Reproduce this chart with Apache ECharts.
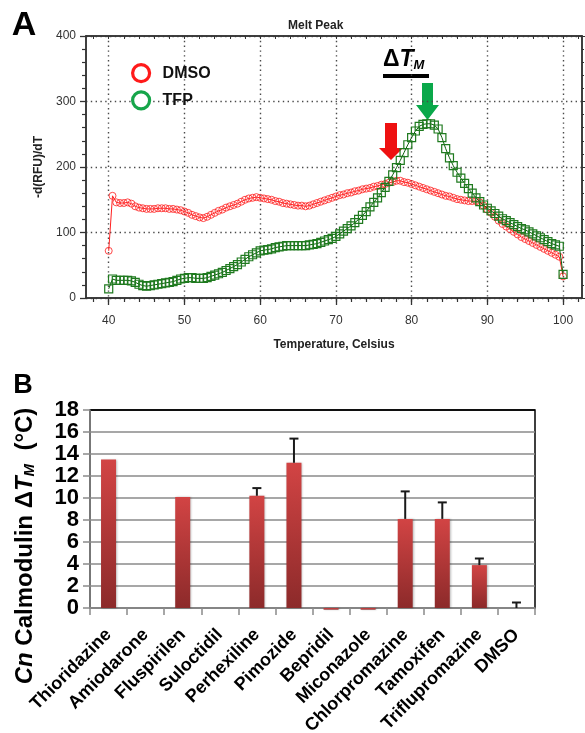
<!DOCTYPE html>
<html>
<head>
<meta charset="utf-8">
<script src="https://cdn.jsdelivr.net/npm/echarts@6/dist/echarts.min.js"></script>
<style>html,body{margin:0;padding:0;background:#fff}#c{width:585px;height:733px}</style>
</head>
<body>
<div id="c"></div>
<script>
// ---------- Panel A: Melt Peak ----------
const meltTemps = [
  40,40.5,41,41.5,42,42.5,43,43.5,44,44.5,
  45,45.5,46,46.5,47,47.5,48,48.5,49,49.5,
  50,50.5,51,51.5,52,52.5,53,53.5,54,54.5,
  55,55.5,56,56.5,57,57.5,58,58.5,59,59.5,
  60,60.5,61,61.5,62,62.5,63,63.5,64,64.5,
  65,65.5,66,66.5,67,67.5,68,68.5,69,69.5,
  70,70.5,71,71.5,72,72.5,73,73.5,74,74.5,
  75,75.5,76,76.5,77,77.5,78,78.5,79,79.5,
  80,80.5,81,81.5,82,82.5,83,83.5,84,84.5,
  85,85.5,86,86.5,87,87.5,88,88.5,89,89.5,
  90,90.5,91,91.5,92,92.5,93,93.5,94,94.5,
  95,95.5,96,96.5,97,97.5,98,98.5,99,99.5,100
];
const dmsoValues = [
  72,156,146,145,145,146,144,140,138,137,
  136,136,136,137,137,137,136,136,135,134,
  132,130,127,125,123,122,124,127,130,133,
  135,138,140,142,144,147,150,152,153,154,
  153,152,151,150,148,147,145,144,143,142,
  141,141,140,141,143,145,147,149,151,153,
  155,157,158,160,161,163,164,166,167,168,
  170,171,173,174,176,177,179,179,177,176,
  174,172,170,168,166,164,162,160,158,156,
  155,153,151,150,149,148,148,148,146,141,
  135,130,124,118,113,109,105,101,97,93,
  90,87,84,81,78,75,72,69,66,63,33
];
const tfpValues = [
  14,29,27,27,27,27,26,24,21,19,
  18,19,20,21,22,23,24,25,27,29,
  30,31,31,30,30,30,31,33,35,37,
  39,42,45,48,51,55,59,63,66,69,
  72,73,74,75,77,78,79,80,80,80,
  80,80,80,81,82,83,85,87,89,91,
  94,98,102,106,110,115,120,126,132,139,
  146,153,161,169,178,188,199,210,222,234,
  245,255,262,265,266,266,264,258,245,228,
  214,202,192,183,175,167,160,153,147,142,
  137,133,129,125,121,118,115,112,109,106,
  104,101,98,95,92,89,86,83,81,79,36
];
const xMajorTicksA = [40,50,60,70,80,90,100];
const xMinorTicksA = [38,40,42,44,46,48,50,52,54,56,58,60,62,64,66,68,70,72,74,76,78,80,82,84,86,88,90,92,94,96,98,100,102];
const yTicksA = [0,100,200,300,400];

// ---------- Panel B: ΔTm bars ----------
const drugNames = ['Thioridazine','Amiodarone','Fluspirilen','Suloctidil','Perhexiline','Pimozide','Bepridil','Miconazole','Chlorpromazine','Tamoxifen','Triflupromazine','DMSO'];
const deltaTm = [13.5, 0, 10.1, 0, 10.2, 13.2, -0.15, -0.15, 8.1, 8.1, 3.9, 0];
const deltaTmErr = [null, null, null, null, 0.7, 2.2, null, null, 2.5, 1.5, 0.6, 0.5];
const yTicksB = [0,2,4,6,8,10,12,14,16,18];

const FONT = '"Liberation Sans", Arial, Helvetica, sans-serif';
const chart = echarts.init(document.getElementById('c'), null, {renderer: 'canvas'});

const dotted = {color: '#4a4a4a', width: 1.4, type: [1.4, 3.4]};

const errData = [];
deltaTm.forEach((v, i) => { if (deltaTmErr[i] != null) errData.push([i, v, deltaTmErr[i]]); });

const gridGrayColors = yTicksB.map((t, i) => i === yTicksB.length - 1 ? '#000' : '#8a8a8a');

const option = {
  animation: false,
  textStyle: {fontFamily: FONT},
  title: {
    text: 'Melt Peak', left: 283, top: 15,
    textStyle: {fontSize: 12, fontWeight: 'bold', color: '#222', fontFamily: FONT}
  },
  legend: {
    orient: 'vertical', left: 126, top: 58, itemWidth: 17, itemHeight: 17, itemGap: 7,
    selectedMode: false,
    data: [
      {name: 'DMSO', icon: 'circle', itemStyle: {color: '#fff', borderColor: '#ff1a1a', borderWidth: 3.2}},
      {name: 'TFP', icon: 'circle', itemStyle: {color: '#fff', borderColor: '#16a54a', borderWidth: 3.2}}
    ],
    textStyle: {fontSize: 16, fontWeight: 'bold', color: '#111', fontFamily: FONT, padding: [0, 0, 0, 8]}
  },
  grid: [
    {left: 86, top: 36, width: 496, height: 262, show: true, borderColor: '#333', borderWidth: 1.5, backgroundColor: 'transparent', containLabel: false, outerBoundsMode: 'none'},
    {left: 90, top: 410, width: 445, height: 198, show: true, borderColor: '#000', borderWidth: 1.5, backgroundColor: 'transparent', containLabel: false, outerBoundsMode: 'none'}
  ],
  xAxis: [
    {
      gridIndex: 0, type: 'value', min: 37, max: 102.5, position: 'bottom',
      axisLine: {show: true, lineStyle: {color: '#333', width: 1.5}},
      axisTick: {show: true, customValues: xMinorTicksA, length: 4, lineStyle: {color: '#333', width: 1.2}},
      axisLabel: {customValues: xMajorTicksA, margin: 17, fontSize: 12, color: '#333', fontFamily: FONT},
      splitLine: {show: false},
      name: 'Temperature, Celsius', nameLocation: 'middle', nameGap: 41,
      nameTextStyle: {fontSize: 12, fontWeight: 'bold', color: '#222', fontFamily: FONT}
    },
    {
      gridIndex: 0, type: 'value', min: 37, max: 102.5, position: 'bottom',
      axisLine: {show: false},
      axisTick: {show: true, customValues: xMajorTicksA, length: 7, lineStyle: {color: '#333', width: 1.3}},
      axisLabel: {show: false},
      splitLine: {show: true, lineStyle: dotted}
    },
    {
      gridIndex: 0, type: 'value', min: 37, max: 102.5, position: 'top',
      axisLine: {show: true, lineStyle: {color: '#333', width: 1.5}},
      axisTick: {show: true, inside: true, customValues: xMinorTicksA, length: 3, lineStyle: {color: '#333'}},
      axisLabel: {show: false},
      splitLine: {show: false}
    },
    {
      gridIndex: 1, type: 'category', data: drugNames,
      axisLine: {show: true, lineStyle: {color: '#8a8a8a', width: 1.5}},
      axisTick: {show: true, length: 7, lineStyle: {color: '#8a8a8a', width: 1.5}},
      axisLabel: {interval: 0, rotate: 45, margin: 24, fontSize: 18, fontWeight: 'bold', color: '#000', fontFamily: FONT},
      splitLine: {show: false}
    }
  ],
  yAxis: [
    {
      gridIndex: 0, type: 'value', min: 0, max: 400, interval: 100,
      axisLine: {show: true, lineStyle: {color: '#333', width: 1.5}},
      axisTick: {show: true, length: 6, lineStyle: {color: '#333', width: 1.3}},
      minorTick: {show: true, splitNumber: 5, length: 4, lineStyle: {color: '#333', width: 1.2}},
      axisLabel: {margin: 10, fontSize: 12, color: '#333', fontFamily: FONT, showMinLabel: true, showMaxLabel: true},
      splitLine: {show: true, lineStyle: dotted},
      name: '-d(RFU)/dT', nameLocation: 'middle', nameGap: 40, nameRotate: 90,
      nameTextStyle: {fontSize: 12, fontWeight: 'bold', color: '#222', fontFamily: FONT}
    },
    {
      gridIndex: 0, type: 'value', min: 0, max: 400, interval: 100, position: 'right',
      axisLine: {show: true, lineStyle: {color: '#333', width: 1.5}},
      axisTick: {show: true, length: 3, lineStyle: {color: '#333'}},
      minorTick: {show: true, splitNumber: 5, length: 2, lineStyle: {color: '#333'}},
      axisLabel: {show: false},
      splitLine: {show: false}
    },
    {
      gridIndex: 1, type: 'value', min: 0, max: 18, interval: 2,
      axisLine: {show: true, lineStyle: {color: '#8a8a8a', width: 1.5}},
      axisTick: {show: true, length: 7, lineStyle: {color: '#8a8a8a', width: 1.5}},
      axisLabel: {margin: 11, fontSize: 22, lineHeight: 19, fontWeight: 'bold', color: '#000', fontFamily: FONT, showMinLabel: true, showMaxLabel: true, hideOverlap: false, interval: 0},
      splitLine: {show: true, lineStyle: {color: gridGrayColors, width: 1.5}}
    }
  ],
  series: [
    {
      name: 'DMSO', type: 'line', xAxisIndex: 0, yAxisIndex: 0,
      data: meltTemps.map((t, i) => [t, dmsoValues[i]]),
      symbol: 'circle', symbolSize: 7, showAllSymbol: true,
      lineStyle: {color: '#ff2020', width: 1},
      itemStyle: {color: 'rgba(255,255,255,0)', borderColor: 'rgba(255,40,40,0.85)', borderWidth: 1},
      z: 3
    },
    {
      name: 'TFP', type: 'line', xAxisIndex: 0, yAxisIndex: 0,
      data: meltTemps.map((t, i) => [t, tfpValues[i]]),
      symbol: 'rect', symbolSize: 8, showAllSymbol: true,
      lineStyle: {color: '#0b5e0b', width: 1},
      itemStyle: {color: 'rgba(255,255,255,0)', borderColor: '#1f7a1f', borderWidth: 1.2},
      z: 4
    },
    {
      name: 'ΔTm', type: 'bar', xAxisIndex: 3, yAxisIndex: 2,
      data: deltaTm, barWidth: 15, clip: false,
      itemStyle: {
        color: new echarts.graphic.LinearGradient(0, 0, 0, 1, [
          {offset: 0, color: '#d24444'}, {offset: 1, color: '#8c2a2a'}
        ]),
        shadowColor: 'rgba(0,0,0,0.25)', shadowBlur: 2, shadowOffsetX: 1
      }
    },
    {
      name: 'err', type: 'custom', xAxisIndex: 3, yAxisIndex: 2,
      data: errData, clip: false, z: 5,
      renderItem: function (params, api) {
        const i = api.value(0), v = api.value(1), e = api.value(2);
        const base = api.coord([i, Math.max(v, 0)]);
        const top = api.coord([i, v + e]);
        const st = {stroke: '#1a1a1a', lineWidth: 2};
        return {type: 'group', children: [
          {type: 'line', shape: {x1: base[0], y1: base[1], x2: top[0], y2: top[1]}, style: st},
          {type: 'line', shape: {x1: top[0] - 4.5, y1: top[1], x2: top[0] + 4.5, y2: top[1]}, style: st}
        ]};
      }
    }
  ],
  graphic: [
    {type: 'text', x: 24, y: 26, style: {text: 'A', fontSize: 34, fontWeight: 'bold', fill: '#000', fontFamily: FONT, align: 'center', verticalAlign: 'middle'}},
    {type: 'text', x: 23, y: 386, style: {text: 'B', fontSize: 27, fontWeight: 'bold', fill: '#000', fontFamily: FONT, align: 'center', verticalAlign: 'middle'}},
    {type: 'text', x: 383, y: 60, style: {
      text: '{d|Δ}{t|T}{m|M}', align: 'left', verticalAlign: 'middle',
      rich: {
        d: {fontSize: 23, fontWeight: 'bold', fill: '#000', fontFamily: FONT, verticalAlign: 'bottom'},
        t: {fontSize: 23, fontWeight: 'bold', fontStyle: 'italic', fill: '#000', fontFamily: FONT, verticalAlign: 'bottom'},
        m: {fontSize: 13, fontWeight: 'bold', fontStyle: 'italic', fill: '#000', fontFamily: FONT, verticalAlign: 'bottom'}
      }
    }},
    {type: 'rect', shape: {x: 383, y: 74, width: 46, height: 4}, style: {fill: '#000'}},
    {type: 'polygon', shape: {points: [[385,123],[397,123],[397,148],[403,148],[391,160],[379,148],[385,148]]}, style: {fill: '#ee1111'}},
    {type: 'polygon', shape: {points: [[422,83],[433,83],[433,105],[439,105],[427.5,120],[416,105],[422,105]]}, style: {fill: '#0aa84a'}},
    {type: 'text', x: 25, y: 546, rotation: Math.PI / 2, style: {
      text: '{i|Cn} Calmodulin Δ{i|T}{s|M}  (°C)', align: 'center', verticalAlign: 'middle',
      fontSize: 24, fontWeight: 'bold', fill: '#000', fontFamily: FONT,
      rich: {
        i: {fontSize: 24, fontWeight: 'bold', fontStyle: 'italic', fill: '#000', fontFamily: FONT, verticalAlign: 'bottom'},
        s: {fontSize: 15, fontWeight: 'bold', fontStyle: 'italic', fill: '#000', fontFamily: FONT, verticalAlign: 'bottom'}
      }
    }}
  ]
};
chart.setOption(option);
</script>
</body>
</html>
